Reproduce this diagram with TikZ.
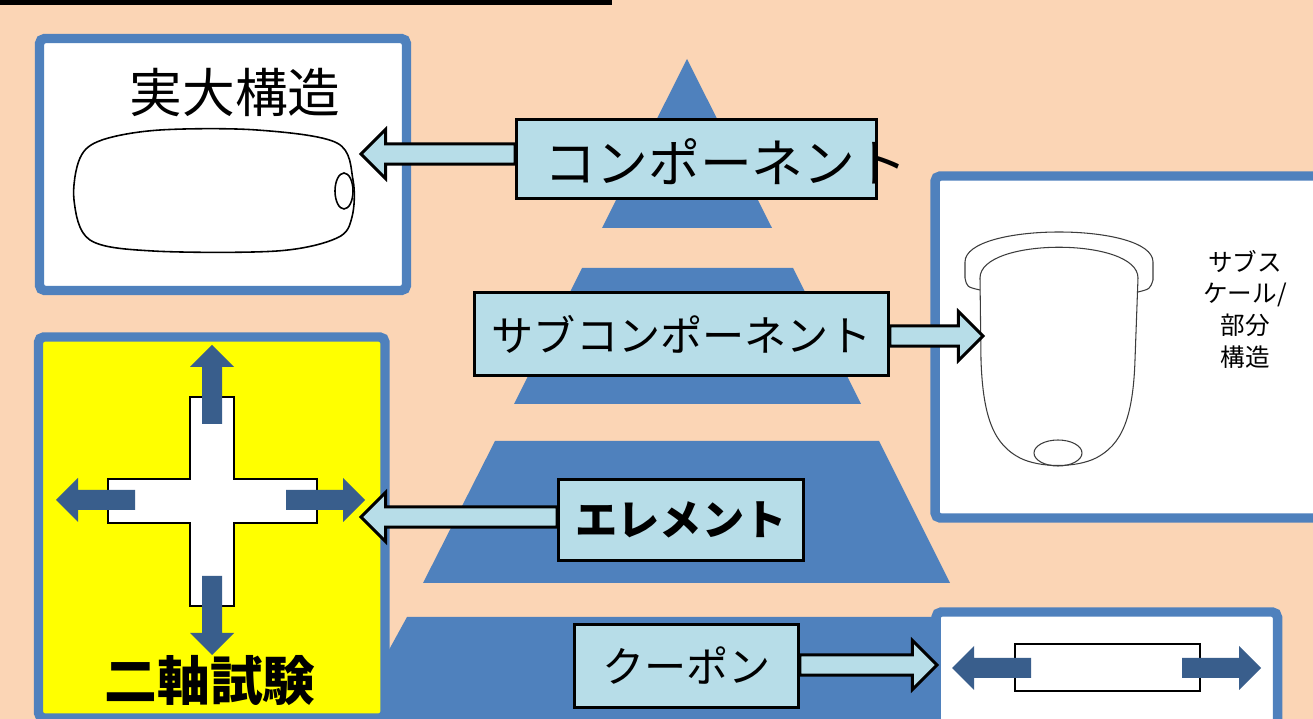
\documentclass[tikz,border=0pt]{standalone}
\usepackage{fontspec}
\newfontfamily\jp{Noto Sans CJK JP}
\usetikzlibrary{calc}

\definecolor{peach}{HTML}{FBD5B5}
\definecolor{panelblue}{HTML}{4F81BD}
\definecolor{boxblue}{HTML}{B7DDE8}
\definecolor{loadblue}{HTML}{395E8C}
\definecolor{sketch}{HTML}{3C3C3C}
\definecolor{testyellow}{RGB}{255,255,0}

% horizontal block arrow: #1 tail point, #2 tip point (same height)
\newcommand{\fatarrow}[2]{%
  \draw[fatarrow] let \p1=(#1), \p2=(#2), \p3=($(#2)!14pt!(#1)$) in
    (\x1,\y2+5.8pt) -- (\x3,\y2+5.8pt) -- (\x3,\y2+14pt) -- (\x2,\y2)
    -- (\x3,\y2-14pt) -- (\x3,\y2-5.8pt) -- (\x1,\y2-5.8pt) -- cycle;}

\tikzset{
  loadarrow/.pic={
    \fill[loadblue] (0,-10) -- (57,-10) -- (57,-22) -- (79,0) -- (57,22)
      -- (57,10) -- (0,10) -- cycle;
  }
}

\begin{document}
\begin{tikzpicture}[x=0.02cm, y=-0.02cm,
  panel/.style={draw=panelblue, line width=5.4pt, rounded corners=3pt},
  tier/.style={fill=panelblue},
  stagebox/.style={draw=black, line width=1.7pt, fill=boxblue, inner sep=0pt,
    font=\jp\fontsize{24}{28}\selectfont},
  fatarrow/.style={draw=black, line width=1.7pt, fill=boxblue, line join=miter},
  sketchline/.style={draw=sketch, line width=0.6pt},
  outline/.style={draw=black, line width=1.4pt, fill=white}]

% page
\path[fill=peach, use as bounding box] (0,0) rectangle (1313,719);
\clip (0,0) rectangle (1313,719);
\fill[black] (0,0) rectangle (612,5);

% pyramid tiers
\fill[tier] (687,59) -- (772,228) -- (602,228) -- cycle;
\fill[tier] (582,268) -- (793,268) -- (861,404) -- (514,404) -- cycle;
\fill[tier] (495,441) -- (879,441) -- (950,583) -- (423,583) -- cycle;
\fill[tier] (407,617) -- (1000,617) -- (1051,719) -- (351,719) -- cycle;

% panels
\draw[panel, fill=white] (39.5,38.5) rectangle (406.5,290.5);
\draw[panel, fill=white] (935,176) rectangle (1340,518);
\draw[panel, fill=testyellow] (38.5,337) rectangle (385,718);
\draw[panel, fill=white] (936,612) rectangle (1277.5,740);

% full-scale structure: fuselage outline
\node[font=\jp\fontsize{30}{34}\selectfont, inner sep=0pt] (fullLabel) at (235,93) {実大構造};
\draw[black, line width=0.9pt] plot[smooth cycle, tension=0.55] coordinates
  {(160,130) (257,130) (337,143) (353,180) (352,217) (337,238)
   (277,251) (153,251) (90,240) (74,200) (80,158) (102,140)};
\draw[black, line width=0.9pt] (344,191) ellipse [x radius=9, y radius=18];

% sub-scale part: cup-shaped section
\draw[sketchline] (965,278) -- (965,262) .. controls (965,222) and (1153,222) .. (1153,262) -- (1153,280);
\draw[sketchline] (965,278) .. controls (967,287) .. (980,290);
\draw[sketchline] (1153,280) .. controls (1150,289) .. (1138,292);
\draw[sketchline] (980,278) .. controls (980,237) and (1138,237) .. (1138,278);
\draw[sketchline] (980,278) -- (981,360) .. controls (983,420) and (995,445) .. (1020,458)
  .. controls (1040,468) and (1076,468) .. (1096,458)
  .. controls (1121,445) and (1133,420) .. (1135,360) -- (1138,278);
\draw[sketchline] (1058,453) ellipse [x radius=24, y radius=13];
\node[font=\jp\fontsize{14}{18}\selectfont, align=center, inner sep=0pt] (subLabel) at (1245,309)
  {サブス\\ケール/\\部分\\構造};

% biaxial test specimen
\draw[outline] (190,397) -- (234,397) -- (234,479) -- (317,479) -- (317,523)
  -- (234,523) -- (234,606) -- (190,606) -- (190,523) -- (108,523)
  -- (108,479) -- (190,479) -- cycle;
\pic[rotate=90] at (212,424) {loadarrow};
\pic[rotate=-90] at (212,576) {loadarrow};
\pic[rotate=180] at (135,500) {loadarrow};
\pic at (286,500) {loadarrow};
\node[font=\jp\bfseries\fontsize{30}{34}\selectfont, inner sep=0pt] (biaxLabel) at (210,681) {二軸試験};

% coupon specimen
\draw[outline] (1015,644) rectangle (1200,691);
\pic[rotate=180] at (1031,668) {loadarrow};
\pic at (1182,668) {loadarrow};

% pyramid labels
\node[stagebox, minimum width=7.2cm, minimum height=1.58cm] (comp) at (696.5,159) {};
\node[stagebox, minimum width=8.28cm, minimum height=1.66cm] (sub) at (681.5,334) {サブコンポーネント};
\node[stagebox, minimum width=4.9cm, minimum height=1.62cm,
  font=\jp\bfseries\fontsize{24}{28}\selectfont] (elem) at (681,520) {エレメント};
\node[stagebox, minimum width=4.48cm, minimum height=1.66cm] (coupon) at (686.5,666) {クーポン};

% connectors
\coordinate (compTip) at (361,154);
\coordinate (subTip) at (983,336);
\coordinate (elemTip) at (361,517);
\coordinate (couponTip) at (937,665);
\fatarrow{comp.west |- compTip}{compTip}
\fatarrow{sub.east |- subTip}{subTip}
\fatarrow{elem.west |- elemTip}{elemTip}
\fatarrow{coupon.east |- couponTip}{couponTip}

\node[font=\jp\fontsize{29.5}{33}\selectfont, inner sep=0pt] (compLabel) at (726,162) {コンポーネント};
\end{tikzpicture}
\end{document}
